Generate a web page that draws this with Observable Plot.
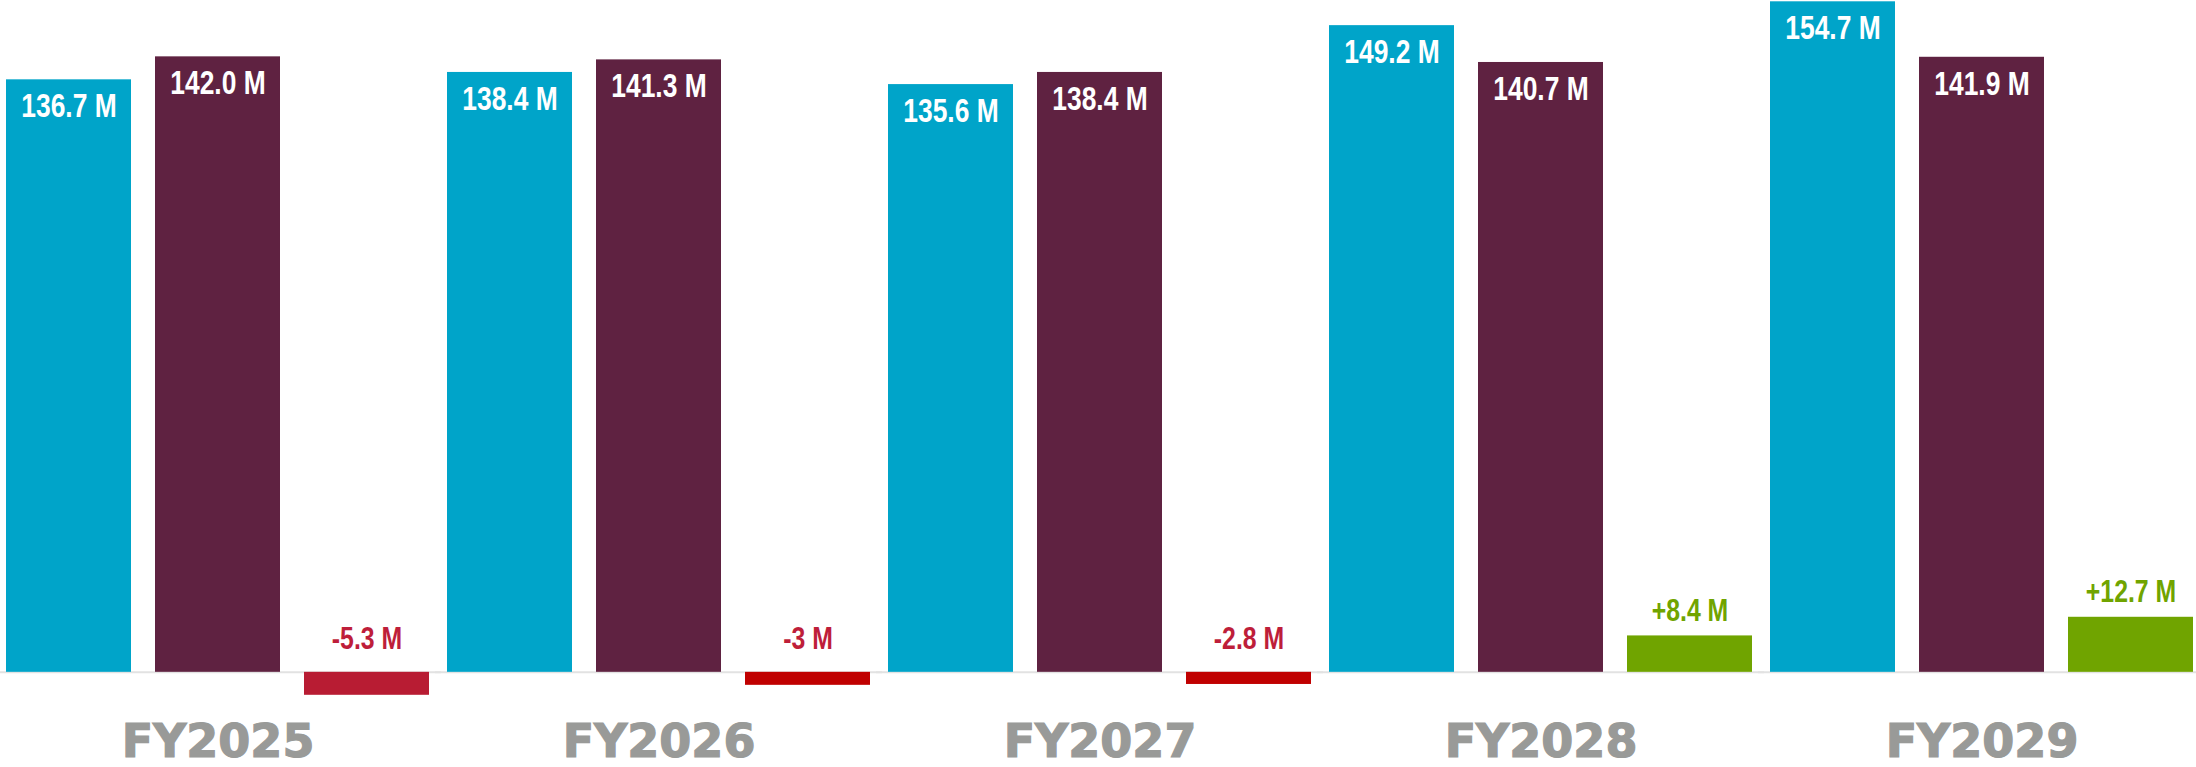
<!DOCTYPE html>
<html>
<head>
<meta charset="utf-8">
<script src="https://cdn.jsdelivr.net/npm/d3@7"></script>
<script src="https://cdn.jsdelivr.net/npm/@observablehq/plot@0.6"></script>
<style>
  html, body { margin: 0; padding: 0; background: #ffffff; }
  #chart svg { display: block; }
</style>
</head>
<body>
<div id="chart"></div>
<script>
// ---- data ----
const years = ["FY2025", "FY2026", "FY2027", "FY2028", "FY2029"];
const series = ["Revenue", "Expenses", "Net"];
const revenue = [136.7, 138.4, 135.6, 149.2, 154.7];
const expenses = [142.0, 141.3, 138.4, 140.7, 141.9];
const net = [-5.3, -3, -2.8, 8.4, 12.7];

// ---- styles ----
const CYAN = "#00a4c9";
const MAROON = "#5f2241";
const GREEN = "#70a400";
const CRIMSON = "#b81c33";
const RED = "#c00000";
const LABEL_RED = "#be1e3a";
const sans = "'Liberation Sans', Arial, sans-serif";

const levels = [];
years.forEach((y, i) => {
  levels.push({year: y, series: "Revenue", value: revenue[i]});
  levels.push({year: y, series: "Expenses", value: expenses[i]});
});
const nets = years.map((y, i) => ({year: y, series: "Net", value: net[i]}));

const fillOf = d => d.series === "Revenue" ? CYAN
  : d.series === "Expenses" ? MAROON
  : d.value >= 0 ? GREEN
  : d.value < -5 ? CRIMSON : RED;

const fmtNet = v => (v > 0 ? "+" : "") + v + " M";

const chart = Plot.plot({
  width: 2196,
  height: 767,
  marginTop: 0,
  marginBottom: 67,
  marginLeft: 4,
  marginRight: 0,
  style: {fontFamily: sans, background: "#ffffff"},
  fx: {domain: years, paddingInner: 0.0407, paddingOuter: 0, label: null},
  x: {domain: series, paddingInner: 0.164, paddingOuter: 0, axis: null},
  y: {domain: [-6.5, 155], axis: null},
  color: {type: "identity"},
  marks: [
    Plot.ruleY([0], {stroke: "#e2e2e2", strokeWidth: 2, insetLeft: -12, insetRight: -12}),
    Plot.barY(levels, {fx: "year", x: "series", y: "value", fill: fillOf}),
    Plot.barY(nets, {fx: "year", x: "series", y: "value", fill: fillOf}),
    Plot.text(levels, {
      fx: "year", x: "series", y: "value",
      text: d => d.value.toFixed(1) + " M",
      fill: "white", fontSize: 33, fontWeight: "bold",
      lineAnchor: "top", dy: 14
    }),
    Plot.text(nets.filter(d => d.value >= 0), {
      fx: "year", x: "series", y: "value",
      text: d => fmtNet(d.value),
      fill: GREEN, fontSize: 31, fontWeight: "bold",
      lineAnchor: "bottom", dy: -15
    }),
    Plot.text(nets.filter(d => d.value < 0), {
      fx: "year", x: "series", y: () => 0,
      text: d => fmtNet(d.value),
      fill: LABEL_RED, fontSize: 31, fontWeight: "bold",
      lineAnchor: "bottom", dy: -23
    }),
    Plot.axisFx({
      anchor: "bottom", tickSize: 0, tickPadding: 24, label: null,
      fontSize: 46, fontWeight: "bold", fontFamily: "'DejaVu Sans', sans-serif",
      color: "#999a98"
    })
  ]
});
document.getElementById("chart").appendChild(chart);

// condensed look for the data labels (Arial Narrow style)
d3.select(chart).selectAll("g[aria-label='text'] text").each(function () {
  const w = this.getComputedTextLength();
  this.setAttribute("textLength", (w * 0.8).toFixed(1));
  this.setAttribute("lengthAdjust", "spacingAndGlyphs");
});
// heavier look for the fiscal-year labels (Arial Black style)
d3.select(chart).selectAll("g[aria-label='fx-axis tick label'] text")
  .attr("stroke", "#999a98").attr("stroke-width", 1.2).attr("paint-order", "stroke");
</script>
</body>
</html>
